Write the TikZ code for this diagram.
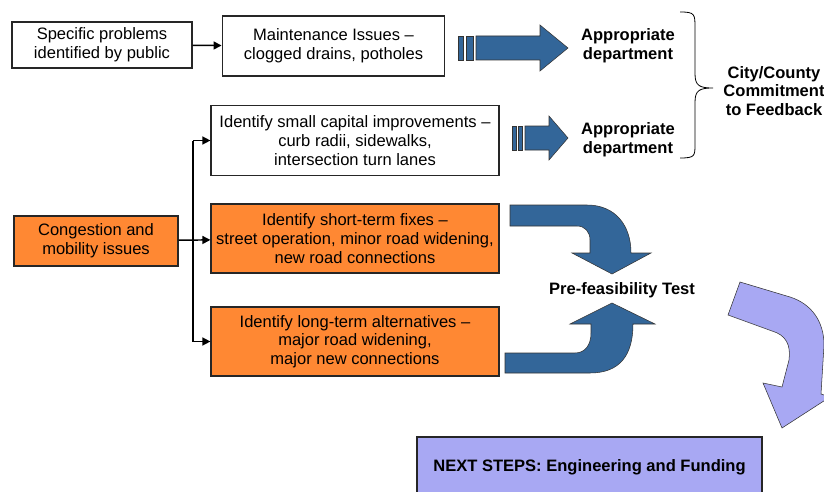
\documentclass[tikz,border=0pt]{standalone}
\usepackage{fontspec}
\setmainfont{Liberation Sans}
\usetikzlibrary{arrows.meta,positioning}

\definecolor{boxorange}{RGB}{255,136,51}
\definecolor{arrowblue}{RGB}{51,102,153}
\definecolor{lavender}{RGB}{168,168,243}

\begin{document}
\begin{tikzpicture}[%
    x=0.75pt,
    y=-0.75pt,
    >={Triangle[length=6pt,width=6pt]},
    box/.style={draw=black!85, line width=0.9pt, align=center, inner sep=2pt,
                font=\fontsize{12.4}{14}\selectfont},
    fixbox/.style={box, fill=boxorange},
    tag/.style={align=center, font=\bfseries\fontsize{12.4}{14}\selectfont},
    link/.style={->, line width=1.1pt},
    bigarrow/.style={fill=arrowblue, draw=black!80, line width=0.4pt}
  ]
    \useasboundingbox (0,0) rectangle (824,492);

    \node[box, minimum width=135pt, minimum height=34.5pt] (pub) at (102,45) {Specific problems\\identified by public};
    \node[box, minimum width=167pt, minimum height=45pt] (maint) at (333.5,46) {Maintenance Issues --\\clogged drains, potholes};
    \node[box, minimum width=216pt, minimum height=53pt] (small) at (355,140.5) {Identify small capital improvements --\\curb radii, sidewalks,\\intersection turn lanes};
    \node[fixbox, minimum width=123pt, minimum height=37.5pt] (cong) at (96,241) {Congestion and\\mobility issues};
    \node[fixbox, minimum width=216pt, minimum height=51.75pt] (short) at (355,238.5) {Identify short-term fixes --\\street operation, minor road widening,\\new road connections};
    \node[fixbox, minimum width=216pt, minimum height=51.75pt] (long) at (355,341.5) {Identify long-term alternatives --\\major road widening,\\major new connections};
    \node[box, fill=lavender, minimum width=258.75pt, minimum height=45pt, font=\bfseries\fontsize{12.4}{14}\selectfont] (next) at (589.5,467) {NEXT STEPS: Engineering and Funding};

    \node[tag] (dept1) at (628,46) {Appropriate\\department};
    \node[tag] (dept2) at (628,140) {Appropriate\\department};
    \node[tag] (city) at (774,91) {City/County\\Commitment\\to Feedback};
    \node[tag] (pretest) at (622,290) {Pre-feasibility Test};

    \draw[link] (pub) -- (maint);
    \draw[link] (cong) -- (short);
    \coordinate (fork) at (193,241);
    \draw[line width=1.1pt] (fork |- small.west) -- (fork |- long.west);
    \draw[link] (fork |- small.west) -- (small.west);
    \draw[link] (fork |- long.west) -- (long.west);

    % straight block arrows
    \draw[bigarrow] (458,36) rectangle (463,60);
    \draw[bigarrow] (466,36) rectangle (473,60);
    \draw[bigarrow] (476,36) -- (540,36) -- (540,25) -- (568,48) -- (540,71) -- (540,60) -- (476,60) -- cycle;
    \draw[bigarrow] (512,126) rectangle (516,150);
    \draw[bigarrow] (518,126) rectangle (522,150);
    \draw[bigarrow] (525,126) -- (549,126) -- (549,116) -- (568,138) -- (549,160) -- (549,150) -- (525,150) -- cycle;

    % bent arrows into the test
    \draw[bigarrow] (510,205) -- (587,205) .. controls (615,205) and (631,225) .. (631,253)
      -- (651,253) -- (612,274) -- (572,253) -- (590,253) -- (590,240)
      .. controls (590,232) and (585,226) .. (577,226) -- (510,226) -- cycle;
    \draw[bigarrow] (505,353) -- (575,353) .. controls (585,353) and (591,345) .. (591,333)
      -- (591,324) -- (570,324) -- (612,303) -- (655,324) -- (633,324)
      .. controls (633,355) and (620,373) .. (590,373) -- (505,373) -- cycle;
    \draw[bigarrow, fill=lavender] (740,282) -- (790,297) .. controls (812,304) and (824,322) .. (824,345)
      -- (821,394) -- (830,397) -- (782,428) -- (763,383) -- (782,387) -- (789,360)
      .. controls (791,345) and (786,335) .. (772,331) -- (728,315) -- cycle;

    % brace
    \draw[line width=0.6pt] (680,12) .. controls (695,12) and (695,14) .. (695,28) -- (695,74)
      .. controls (695,86) and (700,88) .. (713,88) .. controls (700,88) and (695,90) .. (695,102)
      -- (695,144) .. controls (695,156) and (695,158) .. (680,158);
  \end{tikzpicture}
\end{document}
